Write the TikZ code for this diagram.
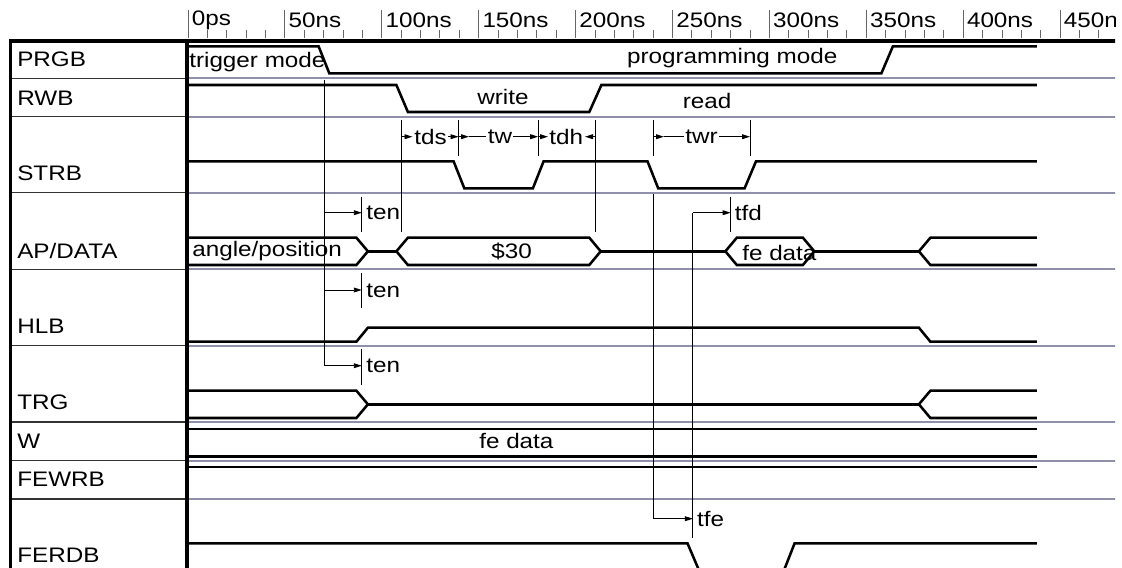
\documentclass[tikz,border=0pt]{standalone}
\usepackage{fontspec}
\setmainfont{Liberation Sans}
\usetikzlibrary{arrows.meta}
\definecolor{grisfila}{RGB}{144,144,172}
\tikzset{
    signal/.style={line width=1.9pt, line join=miter},
    fila/.style={line width=.8pt, draw=black!80},
    filagris/.style={line width=1.5pt, draw=grisfila},
    marca/.style={line width=.7pt},
    cota/.style={line width=.7pt, -{Triangle[length=6pt,width=3.6pt]}},
    etiqueta/.style={inner sep=0pt, anchor=west, font=\fontsize{15.75}{17}\selectfont, xscale=1.155},
}
\begin{document}
\begin{tikzpicture}[x=.75pt, y=-.75pt]
    \useasboundingbox (0,0) rectangle (1122,568);
    \clip (0,0) rectangle (1115,568);

    % Escala de tiempo.
    \foreach \t/\nombre in {0/0ps, 1/50ns, 2/100ns, 3/150ns, 4/200ns, 5/250ns, 6/300ns, 7/350ns, 8/400ns, 9/450ns} {
        \draw[marca, black!60] ({188+96.9*\t},10) -- ({188+96.9*\t},38);
        \node[etiqueta] (t\t) at ({191.5+96.9*\t},20) {\nombre};
    }
    \foreach \t in {1,...,47} {
        \draw[marca, black!60] ({188+19.38*\t},30) -- ({188+19.38*\t},38);
    }

    % Separadores de las filas.
    \foreach \y in {78.3,116.7,192.7,269.3,345.7,422,460.7,499} {
        \draw[fila] (10,\y) -- (187,\y);
        \draw[filagris] (187,\y) -- (1122,\y);
    }
    \draw[line width=2.4pt] (10.5,568) -- (10.5,41) -- (1122,41);
    \draw[line width=2.4pt] (187,41) -- (187,568);

    % Nombres de las señales.
    \node[etiqueta] (prgb) at (17,59) {PRGB};
    \node[etiqueta] (rwb) at (17,98) {RWB};
    \node[etiqueta] (strb) at (17,173) {STRB};
    \node[etiqueta] (apdata) at (17,250.7) {AP/DATA};
    \node[etiqueta] (hlb) at (17,326.7) {HLB};
    \node[etiqueta] (trg) at (17,402) {TRG};
    \node[etiqueta] (w) at (17,441) {W};
    \node[etiqueta] (fewrb) at (17,479) {FEWRB};
    \node[etiqueta] (ferdb) at (17,555) {FERDB};

    % Formas de onda.
    \draw[signal] (188,46.3) -- (318.6,46.3) -- (329.3,73.3) -- (881.4,73.3) -- (892.9,46.3) -- (1036.8,46.3);
    \draw[signal] (188,85) -- (396.4,85) -- (407.9,112) -- (589.3,112) -- (601.4,85) -- (1036.8,85);
    \draw[signal] (188,161.3) -- (453.6,161.3) -- (464.3,188.3) -- (532.9,188.3) -- (543.6,161.3)
        -- (647.5,161.3) -- (658.2,188.3) -- (744.6,188.3) -- (756,161.3) -- (1036.8,161.3);

    % Bus AP/DATA, con sus dos trazos.
    \draw[signal] (188,237.7) -- (356.4,237.7) -- (367.9,251.3) -- (356.4,265) -- (188,265);
    \draw[signal] (367.9,251.3) -- (396.4,251.3);
    \draw[signal] (396.4,251.3) -- (407.9,237.7) -- (589.3,237.7) -- (600.7,251.3) -- (589.3,265) -- (407.9,265) -- cycle;
    \draw[signal] (600.7,251.3) -- (725.4,251.3);
    \draw[signal] (725.4,251.3) -- (736.8,237.7) -- (802.9,237.7) -- (814.3,251.3) -- (802.9,265) -- (736.8,265) -- cycle;
    \draw[signal] (814.3,251.3) -- (918.9,251.3);
    \draw[signal] (1036.8,237.7) -- (930.4,237.7) -- (918.9,251.3) -- (930.4,265) -- (1036.8,265);

    \draw[signal] (188,341.7) -- (356.4,341.7) -- (367.9,327.7) -- (918.9,327.7) -- (930.4,341.7) -- (1036.8,341.7);
    \draw[signal] (188,390.7) -- (356.4,390.7) -- (367.9,404.3) -- (356.4,418) -- (188,418);
    \draw[signal] (367.9,404.3) -- (918.9,404.3);
    \draw[signal] (1036.8,390.7) -- (930.4,390.7) -- (918.9,404.3) -- (930.4,418) -- (1036.8,418);
    \draw[signal] (188,429) -- (1036.8,429);
    \draw[signal] (188,456.3) -- (1036.8,456.3);
    \draw[signal] (188,467) -- (1036.8,467);
    \draw[signal] (188,543.3) -- (687.5,543.3) -- (699,570.3) -- (784,570.3) -- (794.6,543.3) -- (1036.8,543.3);

    % Textos sobre las ondas.
    \node[etiqueta] (modo1) at (189,62) {trigger mode};
    \node[etiqueta] (modo2) at (626.8,58.5) {programming mode};
    \node[etiqueta] (escr) at (477,97) {write};
    \node[etiqueta] (lect) at (682.5,101) {read};
    \node[etiqueta] (angpos) at (192,251.5) {angle/position};
    \node[etiqueta] (dato) at (491,251.5) {\$30};
    \node[etiqueta] (fedato) at (742,253) {fe data};
    \node[etiqueta] (wdato) at (479,441) {fe data};

    % Cotas de tiempo.
    \foreach \x/\a/\b in {361.8/196.7/231.7, 361.8/273.3/308.3, 361.8/349/385, 401.8/120/231.7, 458.6/120/155.7,
        538.2/120/155.7, 595/120/231.7, 653.2/120/155.7, 750/120/155.7, 730.7/196.7/231.7} {
        \draw[marca] (\x,\a) -- (\x,\b);
    }
    \draw[marca] (324,80) -- (324,365.7);
    \draw[cota] (324,212.7) -- (361.8,212.7);
    \draw[cota] (324,290) -- (361.8,290);
    \draw[cota] (324,365.7) -- (361.8,365.7);
    \draw[marca] (653.2,194) -- (653.2,518.7);
    \draw[cota] (653.2,518.7) -- (692.9,518.7);
    \draw[marca] (692.9,212.7) -- (692.9,538);
    \draw[cota] (692.9,212.7) -- (730.7,212.7);
    \node[etiqueta] (ten1) at (366,213) {ten};
    \node[etiqueta] (ten2) at (366,290.5) {ten};
    \node[etiqueta] (ten3) at (366,366) {ten};
    \node[etiqueta] (tfd) at (734.6,213) {tfd};
    \node[etiqueta] (tfe) at (696.8,519) {tfe};

    \node[etiqueta] (tds) at (414,137) {tds};
    \node[etiqueta] (tw) at (487.5,137) {tw};
    \node[etiqueta] (tdh) at (549,137) {tdh};
    \node[etiqueta] (twr) at (685,137) {twr};
    \draw[cota] (401.8,136.7) -- (412.5,136.7);
    \draw[cota] (448,136.7) -- (458.6,136.7);
    \draw[cota] (458.6,136.7) -- (469,136.7);
    \draw[marca] (469,136.7) -- (486,136.7);
    \draw[cota] (513,136.7) -- (538.2,136.7);
    \draw[cota] (538.2,136.7) -- (548,136.7);
    \draw[cota] (595,136.7) -- (585,136.7);
    \draw[cota] (653.2,136.7) -- (664,136.7);
    \draw[marca] (664,136.7) -- (684,136.7);
    \draw[cota] (719,136.7) -- (750,136.7);
\end{tikzpicture}
\end{document}
